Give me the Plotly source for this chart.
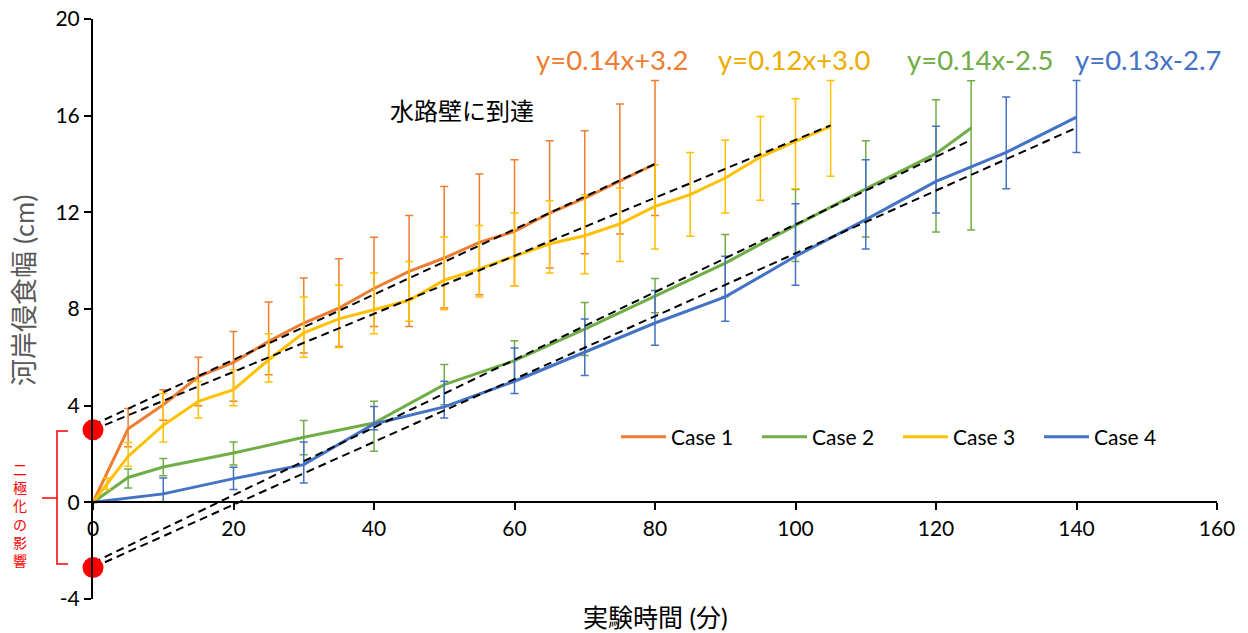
import plotly.graph_objects as go

# ---------------- data ----------------
case1_x = [0, 5, 10, 15, 20, 25, 30, 35, 40, 45, 50, 55, 60, 65, 70, 75, 80]
case1_y = [0, 3.04, 4.04, 5.2, 5.79, 6.66, 7.42, 8.04, 8.85, 9.56, 10.11, 10.76, 11.21, 11.97, 12.59, 13.28, 14.0]
case1_hi = [0, 3.88, 4.66, 6.0, 7.07, 8.29, 9.28, 10.08, 10.97, 11.87, 13.07, 13.59, 14.18, 14.96, 15.38, 16.48, 17.46]
case1_lo = [0, 2.3, 3.4, 4.0, 4.18, 5.28, 6.18, 6.45, 7.28, 7.28, 8.04, 8.59, 8.96, 9.70, 10.29, 11.10, 11.87]

case2_x = [0, 5, 10, 20, 30, 40, 50, 60, 70, 80, 90, 100, 110, 120, 125]
case2_y = [0, 1.03, 1.46, 2.04, 2.69, 3.28, 4.87, 5.86, 7.17, 8.55, 9.90, 11.46, 12.97, 14.43, 15.49]
case2_hi = [0, 1.38, 1.81, 2.50, 3.39, 4.18, 5.70, 6.69, 8.27, 9.26, 11.08, 12.94, 14.96, 16.66, 17.45]
case2_lo = [0, 0.59, 1.10, 1.55, 1.97, 2.11, 4.04, 5.03, 6.08, 7.84, 8.52, 9.97, 10.98, 11.19, 11.27]

case3_x = [0, 2, 5, 10, 15, 20, 25, 30, 35, 40, 45, 50, 55, 60, 65, 70, 75, 80, 85, 90, 95, 100, 105]
case3_y = [0, 0.76, 1.90, 3.19, 4.18, 4.66, 5.90, 7.01, 7.59, 7.97, 8.36, 9.19, 9.66, 10.18, 10.70, 11.03, 11.52, 12.25, 12.73, 13.42, 14.29, 14.94, 15.56]
case3_hi = [0, 1.01, 2.48, 4.50, 5.0, 5.49, 6.98, 8.50, 8.98, 9.49, 9.97, 10.98, 11.46, 11.97, 12.48, 12.73, 13.01, 13.97, 14.48, 14.98, 15.97, 16.70, 17.46]
case3_lo = [0, 0.53, 1.49, 2.50, 3.49, 4.0, 4.98, 6.0, 6.41, 6.98, 7.49, 7.97, 8.5, 8.96, 9.49, 9.46, 9.97, 10.48, 11.01, 11.97, 12.50, 12.98, 13.49]

case4_x = [0, 10, 20, 30, 40, 50, 60, 70, 80, 90, 100, 110, 120, 130, 140]
case4_y = [0, 0.35, 0.98, 1.56, 3.24, 3.95, 5.01, 6.21, 7.42, 8.50, 10.18, 11.70, 13.28, 14.48, 15.94]
case4_hi = [0, 1.01, 1.45, 2.50, 3.97, 5.01, 6.39, 7.59, 8.77, 10.18, 12.36, 14.18, 15.56, 16.77, 17.46]
case4_lo = [0, 0.0, 0.53, 0.80, 3.0, 3.49, 4.50, 5.25, 6.50, 7.49, 8.98, 10.48, 11.97, 12.98, 14.48]

case_names = ["Case 1", "Case 2", "Case 3", "Case 4"]
fit_slope = [0.135, 0.14, 0.12, 0.13]
fit_intercept = [3.2, -2.5, 3.0, -2.7]
fit_labels = ["y=0.14x+3.2", "y=0.14x-2.5", "y=0.12x+3.0", "y=0.13x-2.7"]
split_points = [3.0, -2.7]

x_ticks = [0, 20, 40, 60, 80, 100, 120, 140, 160]
x_tick_labels = ["0", "20", "40", "60", "80", "100", "120", "140", "160"]
y_ticks = [-4, 0, 4, 8, 12, 16, 20]
y_tick_labels = ["-4", "0", "4", "8", "12", "16", "20"]
x_title = "実験時間 (分)"
y_title = "河岸侵食幅 (cm)"
note_wall = "水路壁に到達"
note_split = "二極化の影響"

# ---------------- layout helpers ----------------
W, H = 1248, 633
ML, MR, MT, MB = 93, 31, 19, 34
PW = W - ML - MR
PH = H - MT - MB


def pxx(sx):
    return (sx - ML) / PW


def pxy(sy):
    return (H - MB - sy) / PH


FONT = "Lato, 'Noto Sans CJK JP', sans-serif"
colors = ["#ED7D31", "#70AD47", "#FFC000", "#4472C4"]
label_colors = ["#ED7D31", "#70AD47", "#EBAE00", "#4472C4"]

series = [
    (case1_x, case1_y, case1_hi, case1_lo),
    (case2_x, case2_y, case2_hi, case2_lo),
    (case3_x, case3_y, case3_hi, case3_lo),
    (case4_x, case4_y, case4_hi, case4_lo),
]

fig = go.Figure()

for i, (xs, ys, hi, lo) in enumerate(series):
    plus = [None if x == 0 else round(h - y, 3) for x, y, h in zip(xs, ys, hi)]
    minus = [None if x == 0 else round(y - l, 3) for x, y, l in zip(xs, ys, lo)]
    fig.add_trace(go.Scatter(
        x=xs, y=ys, mode="lines", name=case_names[i],
        line=dict(color=colors[i], width=3),
        error_y=dict(type="data", symmetric=False, array=plus, arrayminus=minus,
                     color=colors[i], thickness=1.5, width=4),
    ))

for i, (xs, ys, hi, lo) in enumerate(series):
    x_end = max(xs)
    fx = [0, x_end]
    fy = [fit_intercept[i] + fit_slope[i] * v for v in fx]
    fig.add_trace(go.Scatter(
        x=fx, y=fy, mode="lines", showlegend=False, hoverinfo="skip",
        line=dict(color="black", width=2, dash="8px,5px"),
    ))

fig.add_trace(go.Scatter(
    x=[0] * len(split_points), y=split_points, mode="markers", showlegend=False,
    marker=dict(color="#FF0000", size=21), cliponaxis=False,
))


def ann(text, sx, sy, size, color, angle=0):
    return dict(text=text, x=pxx(sx), y=pxy(sy), xref="paper", yref="paper",
                xanchor="center", yanchor="middle", showarrow=False, textangle=angle,
                font=dict(family=FONT, size=size, color=color))


annotations = []
eq_pos = [(612, 60), (980, 60), (794, 60), (1148, 60)]
for i in range(4):
    annotations.append(ann(fit_labels[i], eq_pos[i][0], eq_pos[i][1], 27.5, label_colors[i]))
annotations.append(ann(note_wall, 462, 111, 24, "black"))
annotations.append(ann(y_title, 23, 291, 27, "#595959", -90))
annotations.append(ann(x_title, 655, 617, 25, "black"))
annotations.append(ann("<br>".join(note_split), 20, 515, 14, "#FF0000"))

shapes = [
    dict(type="path", xref="paper", yref="paper",
         path=(f"M {pxx(68)},{pxy(431)} L {pxx(57)},{pxy(431)} "
               f"L {pxx(57)},{pxy(564)} L {pxx(68)},{pxy(564)}"),
         line=dict(color="#FF0000", width=1.5)),
    dict(type="line", xref="paper", yref="paper",
         x0=pxx(42), x1=pxx(57), y0=pxy(498), y1=pxy(498),
         line=dict(color="#FF0000", width=1.5)),
]

fig.update_layout(
    width=W, height=H,
    margin=dict(l=ML, r=MR, t=MT, b=MB, pad=0, autoexpand=False),
    paper_bgcolor="white", plot_bgcolor="white",
    font=dict(family=FONT, size=21, color="black"),
    xaxis=dict(range=[0, 160], tickvals=x_ticks, ticktext=x_tick_labels,
               showline=True, linecolor="black", linewidth=2,
               ticks="outside", ticklen=7, tickwidth=2, tickcolor="black",
               showgrid=False, zeroline=False, anchor="free", position=4 / 24,
               automargin=False, ticklabeloverflow="allow",
               tickfont=dict(family=FONT, size=21, color="black")),
    yaxis=dict(range=[-4, 20], tickvals=y_ticks, ticktext=y_tick_labels,
               showline=True, linecolor="black", linewidth=2,
               ticks="outside", ticklen=7, tickwidth=2, tickcolor="black",
               showgrid=False, zeroline=False, automargin=False,
               ticklabeloverflow="allow",
               tickfont=dict(family=FONT, size=21, color="black")),
    legend=dict(orientation="h", x=pxx(616), y=pxy(437), xanchor="left", yanchor="middle",
                font=dict(family=FONT, size=21, color="black"), bgcolor="rgba(0,0,0,0)",
                entrywidth=81, entrywidthmode="pixels", itemwidth=45),
    annotations=annotations,
    shapes=shapes,
    showlegend=True,
)

fig.write_html(
    "out.html",
    config={"displayModeBar": False},
    post_script="document.body.style.margin='0';document.body.style.overflow='hidden';",
)
